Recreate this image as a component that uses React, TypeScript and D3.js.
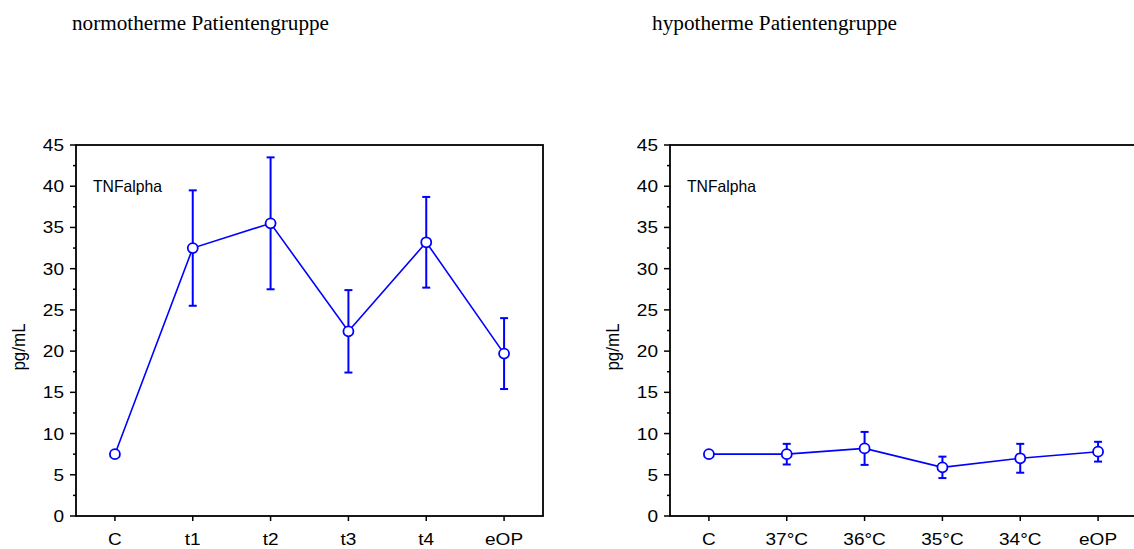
import React, { useRef, useEffect } from "react";
import * as d3 from "d3";

// daten
const leftCategories = ["C", "t1", "t2", "t3", "t4", "eOP"];
const rightCategories = ["C", "37°C", "36°C", "35°C", "34°C", "eOP"];
const leftMeans = [7.5, 32.5, 35.5, 22.4, 33.2, 19.7];
const leftErrors = [0, 7.0, 8.0, 5.0, 5.5, 4.3];
const rightMeans = [7.5, 7.5, 8.2, 5.9, 7.0, 7.8];
const rightErrors = [0, 1.25, 2.0, 1.3, 1.75, 1.2];
const yTicks = [0, 5, 10, 15, 20, 25, 30, 35, 40, 45];
const yMinorTicks = [2.5, 7.5, 12.5, 17.5, 22.5, 27.5, 32.5, 37.5, 42.5];
const panelTitles = ["normotherme Patientengruppe", "hypotherme Patientengruppe"];

const BLUE = "#0000ff";
const SANS = "'Liberation Sans', Arial, sans-serif";
const SERIF = "'Liberation Serif', 'Times New Roman', serif";

export default function App() {
  const ref = useRef<SVGSVGElement>(null);

  useEffect(() => {
    const svg = d3.select(ref.current);
    svg.selectAll("*").remove();

    const y = d3.scaleLinear().domain([0, 45]).range([516, 145]);

    const panels = [
      { x0: 76, x1: 543, titleX: 72, titleLen: 257, cats: leftCategories, means: leftMeans, errs: leftErrors },
      { x0: 670, x1: 1137, titleX: 652, titleLen: 245, cats: rightCategories, means: rightMeans, errs: rightErrors },
    ];

    const stretched = (g: any, x: number, yy: number, txt: string, size: number, anchor: string) =>
      g
        .append("text")
        .attr("transform", `translate(${x},${yy}) scale(1.12,1)`)
        .attr("text-anchor", anchor)
        .style("font-family", SANS)
        .style("font-size", size + "px")
        .attr("fill", "#000")
        .text(txt);

    panels.forEach((p, pi) => {
      const x = d3.scalePoint<string>().domain(p.cats).range([p.x0, p.x1]).padding(0.5);
      const g = svg.append("g");

      // titel
      g.append("text")
        .attr("x", p.titleX)
        .attr("y", 30)
        .attr("textLength", p.titleLen)
        .attr("lengthAdjust", "spacingAndGlyphs")
        .style("font-family", SERIF)
        .style("font-size", "20px")
        .attr("fill", "#000")
        .text(panelTitles[pi]);

      // rahmen
      g.append("rect")
        .attr("x", p.x0)
        .attr("y", y(45))
        .attr("width", p.x1 - p.x0)
        .attr("height", y(0) - y(45))
        .attr("fill", "none")
        .attr("stroke", "#000")
        .attr("stroke-width", 1.8);

      // y-achse
      yTicks.forEach((t) => {
        g.append("line")
          .attr("x1", p.x0 - 6)
          .attr("x2", p.x0)
          .attr("y1", y(t))
          .attr("y2", y(t))
          .attr("stroke", "#000")
          .attr("stroke-width", 1.5);
        stretched(g, p.x0 - 12, y(t) + 6, String(t), 17, "end");
      });
      yMinorTicks.forEach((t) => {
        g.append("line")
          .attr("x1", p.x0 - 3)
          .attr("x2", p.x0)
          .attr("y1", y(t))
          .attr("y2", y(t))
          .attr("stroke", "#000")
          .attr("stroke-width", 1.5);
      });

      // x-achse
      p.cats.forEach((c) => {
        g.append("line")
          .attr("x1", x(c)!)
          .attr("x2", x(c)!)
          .attr("y1", y(0))
          .attr("y2", y(0) + 5)
          .attr("stroke", "#000")
          .attr("stroke-width", 1.5);
        stretched(g, x(c)!, 545, c, 17, "middle");
      });

      // achsentitel
      g.append("text")
        .attr("transform", `translate(${p.x0 - 51},347) scale(1.12,1) rotate(-90)`)
        .attr("text-anchor", "middle")
        .style("font-family", SANS)
        .style("font-size", "17px")
        .attr("fill", "#000")
        .text("pg/mL");

      g.append("text")
        .attr("x", p.x0 + 17)
        .attr("y", 192)
        .attr("textLength", 69)
        .attr("lengthAdjust", "spacingAndGlyphs")
        .style("font-family", SANS)
        .style("font-size", "16.5px")
        .attr("fill", "#000")
        .text("TNFalpha");

      const pts = p.cats.map((c, i) => ({ c, m: p.means[i], e: p.errs[i] }));

      // fehlerbalken
      pts.forEach((d) => {
        if (d.e <= 0) return;
        const cx = x(d.c)!;
        g.append("line")
          .attr("x1", cx).attr("x2", cx)
          .attr("y1", y(d.m + d.e)).attr("y2", y(d.m - d.e))
          .attr("stroke", BLUE).attr("stroke-width", 2);
        [d.m + d.e, d.m - d.e].forEach((v) => {
          g.append("line")
            .attr("x1", cx - 4).attr("x2", cx + 4)
            .attr("y1", y(v)).attr("y2", y(v))
            .attr("stroke", BLUE).attr("stroke-width", 2);
        });
      });

      const lineGen = d3
        .line<{ c: string; m: number }>()
        .x((d) => x(d.c)!)
        .y((d) => y(d.m));

      g.append("path")
        .datum(pts)
        .attr("d", lineGen as any)
        .attr("fill", "none")
        .attr("stroke", BLUE)
        .attr("stroke-width", 1.6);

      g.selectAll("circle.pt")
        .data(pts)
        .enter()
        .append("circle")
        .attr("class", "pt")
        .attr("cx", (d) => x(d.c)!)
        .attr("cy", (d) => y(d.m))
        .attr("r", 5)
        .attr("fill", "#fff")
        .attr("stroke", BLUE)
        .attr("stroke-width", 1.8);
    });
  }, []);

  return (
    <svg
      ref={ref}
      width={1134}
      height={549}
      style={{ position: "absolute", left: 0, top: 0, background: "#fff" }}
    />
  );
}
